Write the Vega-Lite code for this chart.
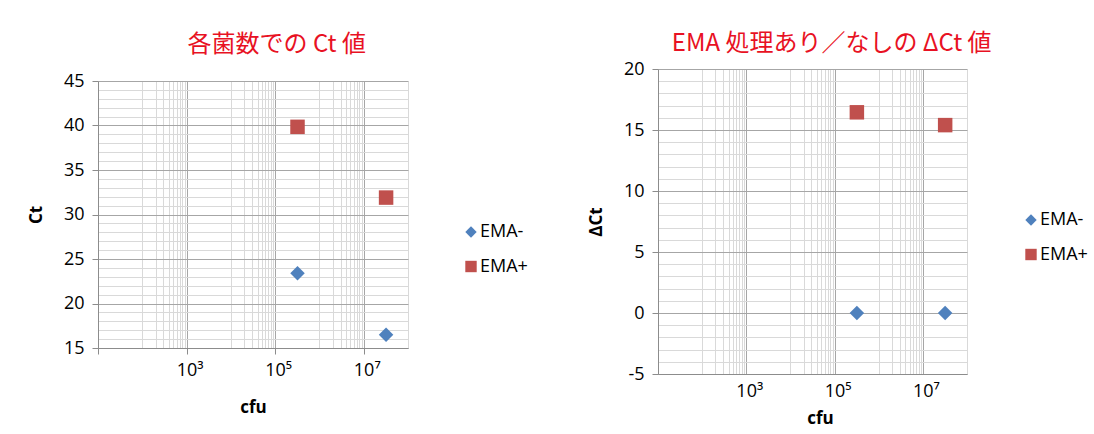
{
  "$schema": "https://vega.github.io/schema/vega-lite/v6.json",
  "background": "white",
  "padding": {"left": 27, "top": 32, "right": 5, "bottom": 0},
  "datasets": {
    "ct": [
      {"cfu": 320000, "Ct": 23.4, "series": "EMA-"},
      {"cfu": 32000000, "Ct": 16.5, "series": "EMA-"},
      {"cfu": 320000, "Ct": 39.85, "series": "EMA+"},
      {"cfu": 32000000, "Ct": 31.9, "series": "EMA+"}
    ],
    "dct": [
      {"cfu": 320000, "dCt": 0, "series": "EMA-"},
      {"cfu": 32000000, "dCt": 0, "series": "EMA-"},
      {"cfu": 320000, "dCt": 16.45, "series": "EMA+"},
      {"cfu": 32000000, "dCt": 15.4, "series": "EMA+"}
    ]
  },
  "config": {
    "view": {"stroke": null},
    "font": "Open Sans",
    "title": {"font": "Noto Sans CJK JP", "fontSize": 24, "fontWeight": "normal", "color": "#e81123", "anchor": "middle", "frame": "bounds", "offset": 10},
    "axis": {
      "labelFont": "Open Sans, Noto Sans, sans-serif",
      "labelFontSize": 18,
      "labelColor": "#000000",
      "titleFont": "Open Sans, Noto Sans, sans-serif",
      "titleFontSize": 17,
      "titleFontWeight": "bold",
      "titleColor": "#000000",
      "domainColor": "#8c8c8c",
      "tickColor": "#8c8c8c",
      "gridWidth": 1,
      "labelOverlap": false,
      "labelFlush": false,
      "labelBound": false
    },
    "legend": {
      "orient": "none",
      "legendX": 364,
      "legendY": 142,
      "title": null,
      "labelFont": "Open Sans, Noto Sans, sans-serif",
      "labelFontSize": 18,
      "labelColor": "#000000",
      "symbolSize": 130,
      "symbolStrokeWidth": 0,
      "rowPadding": 16.5,
      "labelOffset": 0,
      "padding": 0
    }
  },
  "spacing": 59,
  "resolve": {"scale": {"color": "independent", "shape": "independent"}},
  "hconcat": [
    {
      "title": {"text": "各菌数での Ct 値", "anchor": "middle", "frame": "bounds", "dx": -1, "dy": -2},
      "spacing": 2,
      "resolve": {"scale": {"color": "independent", "shape": "independent"}},
      "vconcat": [
        {
          "width": 1,
          "height": 1,
          "data": {"values": []},
          "mark": "point",
          "encoding": {}
        },
        {
          "width": 310,
          "height": 267,
          "data": {"name": "ct"},
          "mark": {"type": "point", "filled": true, "opacity": 1, "size": 210},
          "encoding": {
            "x": {
              "field": "cfu",
              "type": "quantitative",
              "scale": {"type": "log", "domain": [10, 100000000], "nice": false},
              "axis": {
                "values": [10, 100, 200, 300, 400, 500, 600, 700, 800, 900, 1000, 10000, 20000, 30000, 40000, 50000, 60000, 70000, 80000, 90000, 100000, 1000000, 2000000, 3000000, 4000000, 5000000, 6000000, 7000000, 8000000, 9000000, 10000000, 100000000],
                "grid": true,
                "gridColor": {"condition": {"test": "indexof([10, 1000, 100000, 10000000], datum.value) >= 0", "value": "#a6a6a6"}, "value": "#d9d9d9"},
                "tickOpacity": {"condition": {"test": "indexof([10, 1000, 100000, 10000000], datum.value) >= 0", "value": 1}, "value": 0},
                "tickSize": 6,
                "labelExpr": "datum.value == 1000 ? '10\u00b3' : datum.value == 100000 ? '10\u2075' : datum.value == 10000000 ? '10\u2077' : ''",
                "labelPadding": 7,
                "labelOffset": 3,
                "title": "cfu",
                "titlePadding": 20
              }
            },
            "y": {
              "field": "Ct",
              "type": "quantitative",
              "scale": {"domain": [15, 45], "nice": false, "zero": false},
              "axis": {
                "values": [15, 16, 17, 18, 19, 20, 21, 22, 23, 24, 25, 26, 27, 28, 29, 30, 31, 32, 33, 34, 35, 36, 37, 38, 39, 40, 41, 42, 43, 44, 45],
                "grid": true,
                "gridColor": {"condition": {"test": "datum.value % 5 === 0", "value": "#a6a6a6"}, "value": "#d9d9d9"},
                "tickOpacity": {"condition": {"test": "datum.value % 5 === 0", "value": 1}, "value": 0},
                "tickSize": 6,
                "labelExpr": "datum.value % 5 === 0 ? '' + datum.value : ''",
                "labelPadding": 8,
                "title": "Ct",
                "titlePadding": 18
              }
            },
            "color": {
              "field": "series",
              "type": "nominal",
              "scale": {"domain": ["EMA-", "EMA+"], "range": ["#4f81bd", "#c0504d"]},
              "legend": {"title": null}
            },
            "shape": {
              "field": "series",
              "type": "nominal",
              "scale": {"domain": ["EMA-", "EMA+"], "range": ["diamond", "square"]},
              "legend": {"title": null}
            }
          }
        }
      ]
    },
    {
      "title": {"text": "EMA 処理あり／なしの ΔCt 値", "anchor": "middle", "frame": "bounds", "dx": -6, "dy": 6},
      "width": 309,
      "height": 305,
      "data": {"name": "dct"},
      "mark": {"type": "point", "filled": true, "opacity": 1, "size": 210},
      "encoding": {
        "x": {
          "field": "cfu",
          "type": "quantitative",
          "scale": {"type": "log", "domain": [10, 100000000], "nice": false},
          "axis": {
            "values": [10, 100, 200, 300, 400, 500, 600, 700, 800, 900, 1000, 10000, 20000, 30000, 40000, 50000, 60000, 70000, 80000, 90000, 100000, 1000000, 2000000, 3000000, 4000000, 5000000, 6000000, 7000000, 8000000, 9000000, 10000000, 100000000],
            "grid": true,
            "gridColor": {"condition": {"test": "indexof([10, 1000, 100000, 10000000], datum.value) >= 0", "value": "#a6a6a6"}, "value": "#d9d9d9"},
            "ticks": false,
            "labelExpr": "datum.value == 1000 ? '10\u00b3' : datum.value == 100000 ? '10\u2075' : datum.value == 10000000 ? '10\u2077' : ''",
            "labelPadding": 8,
            "labelOffset": 3,
            "title": "cfu",
            "titleX": 162,
            "titlePadding": 10
          }
        },
        "y": {
          "field": "dCt",
          "type": "quantitative",
          "scale": {"domain": [-5, 20], "nice": false, "zero": false},
          "axis": {
            "values": [-5, -4, -3, -2, -1, 0, 1, 2, 3, 4, 5, 6, 7, 8, 9, 10, 11, 12, 13, 14, 15, 16, 17, 18, 19, 20],
            "grid": true,
            "gridColor": {"condition": {"test": "datum.value % 5 === 0", "value": "#a6a6a6"}, "value": "#d9d9d9"},
            "tickOpacity": {"condition": {"test": "datum.value % 5 === 0", "value": 1}, "value": 0},
            "tickSize": 6,
            "labelExpr": "datum.value % 5 === 0 ? '' + datum.value : ''",
            "labelPadding": 8,
            "title": "ΔCt",
            "titlePadding": 18
          }
        },
        "color": {
          "field": "series",
          "type": "nominal",
          "scale": {"domain": ["EMA-", "EMA+"], "range": ["#4f81bd", "#c0504d"]},
          "legend": {"title": null}
        },
        "shape": {
          "field": "series",
          "type": "nominal",
          "scale": {"domain": ["EMA-", "EMA+"], "range": ["diamond", "square"]},
          "legend": {"title": null}
        }
      }
    }
  ]
}
